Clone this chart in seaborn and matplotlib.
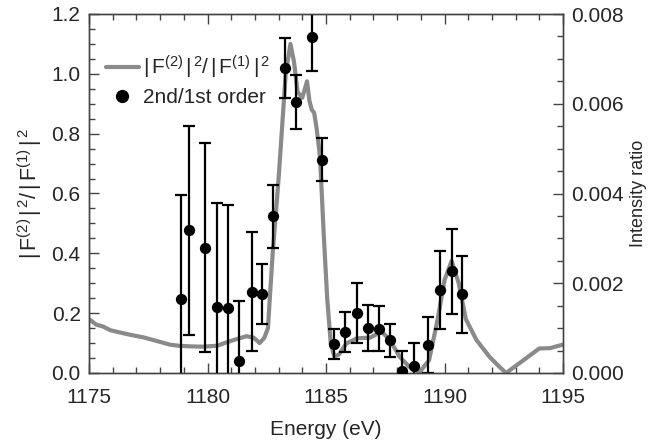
import matplotlib
matplotlib.use("Agg")
import matplotlib.pyplot as plt
import seaborn as sns
import pandas as pd
from matplotlib.lines import Line2D
from matplotlib.ticker import MultipleLocator, FormatStrFormatter

# Calculated |F(2)|^2/|F(1)|^2 spectrum (left axis)
calc_energy = [1175.0, 1175.3, 1175.6, 1175.9, 1176.6, 1177.3, 1178.0, 1178.4, 1178.8,
               1179.3, 1179.8, 1180.4, 1180.9, 1181.3, 1181.65, 1181.95, 1182.2, 1182.4,
               1182.55, 1182.75, 1183.0, 1183.3, 1183.5, 1183.65, 1183.8, 1184.0, 1184.2,
               1184.3, 1184.4, 1184.5, 1184.6, 1184.75, 1184.9, 1185.05, 1185.2, 1185.35,
               1185.55, 1185.85, 1186.3, 1186.85, 1187.35, 1187.7, 1188.1, 1188.5, 1188.95,
               1189.35, 1189.7, 1190.0, 1190.3, 1190.6, 1190.9, 1191.35, 1191.9, 1192.3,
               1192.6, 1194.0, 1194.45, 1195.0]
calc_ratio = [0.180, 0.162, 0.155, 0.143, 0.130, 0.119, 0.104, 0.095, 0.091,
              0.089, 0.088, 0.091, 0.105, 0.115, 0.123, 0.118, 0.100, 0.118,
              0.150, 0.400, 0.650, 1.000, 1.100, 1.040, 0.940, 0.920, 0.975,
              0.910, 0.880, 0.870, 0.820, 0.720, 0.470, 0.250, 0.100, 0.055,
              0.062, 0.098, 0.116, 0.118, 0.138, 0.110, 0.055, 0.022, 0.003,
              0.043, 0.175, 0.310, 0.375, 0.300, 0.180, 0.110, 0.054, 0.022,
              0.000, 0.082, 0.083, 0.095]

# Measured 2nd/1st order intensity ratio (right axis)
meas_energy = [1178.87, 1179.20, 1179.89, 1180.39, 1180.87, 1181.33, 1181.86, 1182.31,
               1182.78, 1183.27, 1183.73, 1184.41, 1184.84, 1185.34, 1185.80, 1186.32,
               1186.76, 1187.25, 1187.69, 1188.21, 1188.73, 1189.32, 1189.81, 1190.30,
               1190.74]
meas_ratio = [0.00164, 0.00318, 0.00279, 0.00146, 0.00144, 0.00027, 0.00181, 0.00177,
              0.00349, 0.00679, 0.00603, 0.00749, 0.00475, 0.00065, 0.00091, 0.00134,
              0.00101, 0.00099, 0.00073, 0.00005, 0.00015, 0.00062, 0.00185, 0.00227,
              0.00175]
meas_err = [0.00232, 0.00233, 0.00233, 0.00233, 0.00231, 0.00133, 0.00133, 0.00067,
            0.00070, 0.00067, 0.00060, 0.00075, 0.00048, 0.00033, 0.00045, 0.00067,
            0.00051, 0.00050, 0.00037, 0.00044, 0.00052, 0.00062, 0.00087, 0.00095,
            0.00085]

sns.set_theme(style="ticks")
plt.rcParams["font.family"] = ["Liberation Sans", "DejaVu Sans"]
plt.rcParams["mathtext.fontset"] = "custom"
plt.rcParams["mathtext.rm"] = "Liberation Sans"
plt.rcParams["mathtext.it"] = "Liberation Sans:italic"
plt.rcParams["mathtext.bf"] = "Liberation Sans:bold"

FS = 15
GRAY = "#8a8a8a"
SPINE = "#444444"
FRATIO = r"$|\,\mathrm{F}^{(2)}\,|^{\,2}/\,|\,\mathrm{F}^{(1)}\,|^{\,2}$"

calc = pd.DataFrame({"energy": calc_energy, "ratio": calc_ratio})
meas = pd.DataFrame({"energy": meas_energy, "ratio": meas_ratio, "err": meas_err})

fig = plt.figure(figsize=(6.5, 4.43), dpi=100)
ax = fig.add_axes([89 / 650, 70 / 443, 474 / 650, 359 / 443])
ax2 = ax.twinx()

sns.lineplot(data=calc, x="energy", y="ratio", ax=ax, color=GRAY, lw=3.0,
             legend=False, zorder=1)

ax2.errorbar(meas["energy"], meas["ratio"], yerr=meas["err"], fmt="none",
             ecolor="black", elinewidth=1.6, capsize=4.5, capthick=1.6, zorder=2)
sns.scatterplot(data=meas, x="energy", y="ratio", ax=ax2, color="black", s=66,
                edgecolor="black", linewidth=0, zorder=3, legend=False)

ax.set_xlim(1175, 1195)
ax.set_ylim(0, 1.2)
ax2.set_ylim(0, 0.008)

ax.xaxis.set_major_locator(MultipleLocator(5))
ax.xaxis.set_minor_locator(MultipleLocator(1))
ax.yaxis.set_major_locator(MultipleLocator(0.2))
ax.yaxis.set_minor_locator(MultipleLocator(0.05))
ax.yaxis.set_major_formatter(FormatStrFormatter("%.1f"))
ax2.yaxis.set_major_locator(MultipleLocator(0.002))
ax2.yaxis.set_minor_locator(MultipleLocator(0.0005))
ax2.yaxis.set_major_formatter(FormatStrFormatter("%.3f"))

for a in (ax, ax2):
    for s in a.spines.values():
        s.set_visible(True)
        s.set_color(SPINE)
        s.set_linewidth(1.0)
ax.tick_params(axis="x", which="both", direction="in", top=True, bottom=True,
               color=SPINE, labelsize=FS, pad=11)
ax.tick_params(axis="y", which="both", direction="in", left=True, right=False,
               color=SPINE, labelsize=FS, pad=6)
ax2.tick_params(axis="y", which="both", direction="in", right=True, left=False,
                color=SPINE, labelsize=FS, pad=6)
for a in (ax, ax2):
    a.tick_params(which="major", length=7, width=1.0)
    a.tick_params(which="minor", length=4, width=1.0)

ax.set_xlabel("Energy (eV)", fontsize=FS, labelpad=9)
ax.set_ylabel(FRATIO, fontsize=15.5, labelpad=5)
ax2.set_ylabel("Intensity ratio", fontsize=13, labelpad=4)

handles = [
    Line2D([], [], color=GRAY, lw=3.0),
    Line2D([], [], color="black", marker="o", markersize=8.5, linestyle="none"),
]
labels = [FRATIO, "2nd/1st order"]
ax2.legend(handles, labels, loc="upper left", bbox_to_anchor=(0.0, 0.935),
           frameon=False, fontsize=FS, handlelength=1.6, handletextpad=0.2,
           labelspacing=0.35, borderaxespad=0.4)

fig.savefig("out.png", dpi=100)
